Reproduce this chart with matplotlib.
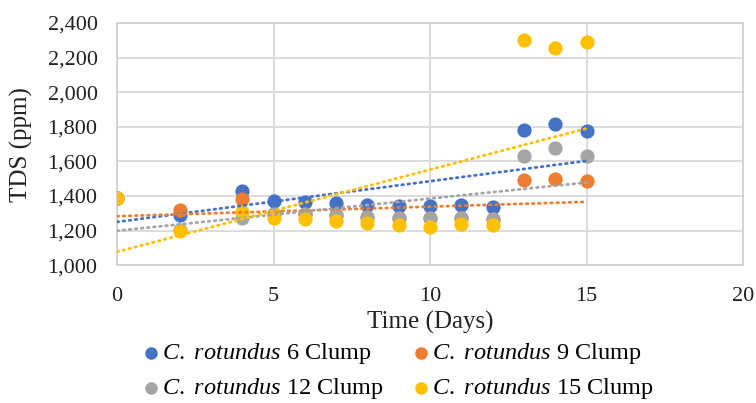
import numpy as np
import matplotlib
matplotlib.use("Agg")
import matplotlib.pyplot as plt
from matplotlib.ticker import FuncFormatter, MultipleLocator

plt.rcParams["font.family"] = ["Liberation Serif", "DejaVu Serif"]
plt.rcParams["mathtext.fontset"] = "custom"
plt.rcParams["mathtext.rm"] = "Liberation Serif"
plt.rcParams["mathtext.it"] = "Liberation Serif:italic"

days = [0, 2, 4, 5, 6, 7, 8, 9, 10, 11, 12, 13, 14, 15]
clump6 = [1390, 1290, 1430, 1370, 1365, 1360, 1350, 1340, 1340, 1350, 1335, 1780, 1815, 1775]
clump9 = [1390, 1320, 1385, 1295, 1295, 1290, 1280, 1275, 1270, 1275, 1265, 1490, 1500, 1485]
clump12 = [1390, 1205, 1270, 1295, 1295, 1290, 1280, 1275, 1270, 1275, 1265, 1630, 1680, 1630]
clump15 = [1390, 1200, 1310, 1270, 1265, 1255, 1245, 1235, 1220, 1240, 1235, 2300, 2255, 2290]

# Linear trendline values at the first and last day of each series
trend_start = [1250, 1283, 1199, 1077]
trend_end = [1603, 1366, 1478, 1790]

names = ["6", "9", "12", "15"]
values = [clump6, clump9, clump12, clump15]
colors = ["#4472C4", "#ED7D31", "#A5A5A5", "#FFC000"]

fig = plt.figure(figsize=(7.56, 4.03), dpi=100)
ax = fig.add_axes([0.1548, 0.342, 0.828, 0.601])

x = np.array(days, dtype=float)
handles = []
for i, (n, vals, col) in enumerate(zip(names, values, colors)):
    h = ax.scatter(x, vals, s=105, color=col, zorder=3 + i, linewidths=0,
                   label=r"$\mathit{C.}$ $\mathit{rotundus}$ " + n + " Clump")
    handles.append(h)
for i, col in enumerate(colors):
    ax.plot([days[0], days[-1]], [trend_start[i], trend_end[i]], color=col,
            lw=2.0, linestyle=(0, (0.6, 1.6)), dash_capstyle="round", zorder=10)

ax.set_xlim(0, 20)
ax.set_ylim(1000, 2400)
ax.xaxis.set_major_locator(MultipleLocator(5))
ax.yaxis.set_major_locator(MultipleLocator(200))
ax.yaxis.set_major_formatter(FuncFormatter(lambda v, p: f"{int(v):,}"))
ax.grid(True, color="#d9d9d9", lw=1.3, zorder=0)
ax.set_axisbelow(True)
for s in ax.spines.values():
    s.set_color("#d0d0d0")
    s.set_linewidth(1.3)
ax.tick_params(length=0, labelsize=16, colors="#222222")
ax.tick_params(axis="x", pad=16)
ax.tick_params(axis="y", pad=14)
ax.set_xlabel("Time (Days)", fontsize=18, color="#222222", va="center")
ax.set_ylabel("TDS (ppm)", fontsize=18, color="#222222", va="center")
ax.xaxis.set_label_coords(0.5, -0.236)
ax.yaxis.set_label_coords(-0.153, 0.5)

order = [0, 2, 1, 3]
fig.legend([handles[i] for i in order], [handles[i].get_label() for i in order],
           loc="upper left", bbox_to_anchor=(145 / 756, 1 - 341 / 403), ncol=2,
           frameon=False, fontsize=17.5, handlelength=0.5, handletextpad=0.2,
           columnspacing=1.3, labelspacing=0.42, borderpad=0, borderaxespad=0,
           markerscale=0.88)

fig.savefig("out.png", dpi=100, facecolor="white")
